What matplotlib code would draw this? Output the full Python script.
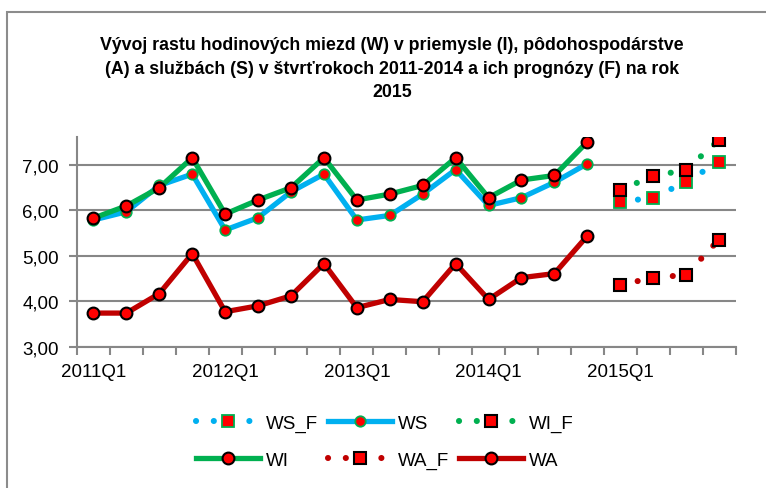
import numpy as np
import matplotlib.pyplot as plt
from matplotlib.patches import Rectangle

plt.rcParams['font.family'] = ['Liberation Sans Narrow', 'Liberation Sans', 'DejaVu Sans']

# stvrtroky 2011Q1 - 2015Q4
kvartaly = [f'{r}Q{q}' for r in range(2011, 2016) for q in range(1, 5)]

# hodinove mzdy - skutocnost 2011-2014
WS = [5.79, 5.97, 6.55, 6.80, 5.57, 5.84, 6.41, 6.80, 5.79, 5.89, 6.36, 6.90, 6.11, 6.28, 6.62, 7.03]
WI = [5.83, 6.10, 6.50, 7.16, 5.92, 6.23, 6.50, 7.16, 6.23, 6.36, 6.55, 7.16, 6.28, 6.67, 6.77, 7.51]
WA = [3.74, 3.74, 4.17, 5.05, 3.77, 3.90, 4.12, 4.83, 3.86, 4.04, 3.99, 4.83, 4.04, 4.52, 4.61, 5.44]

# prognozy na rok 2015
WS_F = [6.19, 6.28, 6.63, 7.07]
WI_F = [6.46, 6.75, 6.90, 7.55]
WA_F = [4.36, 4.52, 4.58, 5.36]

modra = '#00B0F0'
zelena = '#00B050'
bordova = '#C00000'
cervena = '#FF0000'
siva = '#878787'

x = np.arange(len(kvartaly))
x_hist = x[:16]
x_prog = x[16:]

W, H = 766, 489
fig = plt.figure(figsize=(W / 100, H / 100), dpi=100)
ax = fig.add_axes([77 / W, 1 - 347.7 / H, (735.5 - 77) / W, (347.7 - 138.3) / H])

bodky = dict(linestyle=(0, (0.01, 2.9)), dash_capstyle='round', linewidth=4.4)

ax.plot(x_prog, WS_F, color=modra, marker='s', markersize=8, markerfacecolor=cervena,
        markeredgecolor=zelena, markeredgewidth=1.3, label='WS_F', **bodky)
ax.plot(x_hist, WS, color=modra, linewidth=3.8, marker='o', markersize=7.5,
        markerfacecolor=cervena, markeredgecolor=zelena, markeredgewidth=1.3, label='WS')
ax.plot(x_prog, WI_F, color=zelena, marker='s', markersize=8.5, markerfacecolor=cervena,
        markeredgecolor='black', markeredgewidth=1.5, label='WI_F', **bodky)
ax.plot(x_hist, WI, color=zelena, linewidth=3.8, marker='o', markersize=8.5,
        markerfacecolor=cervena, markeredgecolor='black', markeredgewidth=1.5, label='WI')
ax.plot(x_prog, WA_F, color=bordova, marker='s', markersize=8.5, markerfacecolor=cervena,
        markeredgecolor='black', markeredgewidth=1.5, label='WA_F', **bodky)
ax.plot(x_hist, WA, color=bordova, linewidth=3.8, marker='o', markersize=8.5,
        markerfacecolor=cervena, markeredgecolor='black', markeredgewidth=1.5, label='WA')

ax.set_xlim(-0.5, len(kvartaly) - 0.5)
ax.set_ylim(3, 7.61)

ax.set_yticks([3, 4, 5, 6, 7])
ax.set_yticklabels([f'{v:.2f}'.replace('.', ',') for v in [3, 4, 5, 6, 7]])
ax.set_xticks(x[::4])
ax.set_xticklabels(kvartaly[::4])
ax.set_xticks(np.arange(-0.5, len(kvartaly)), minor=True)

ax.tick_params(axis='x', which='major', length=0, pad=12, labelsize=13.5)
ax.tick_params(axis='x', which='minor', length=5.5, width=1.5, color=siva, direction='out')
ax.tick_params(axis='y', length=6, width=1.5, color=siva, pad=7, labelsize=13.5)

ax.grid(axis='y', color=siva, linewidth=1.5)
ax.set_axisbelow(True)
for s in ['top', 'right']:
    ax.spines[s].set_visible(False)
for s in ['left', 'bottom']:
    ax.spines[s].set_color(siva)
    ax.spines[s].set_linewidth(1.5)

fig.text(392 / W, 1 - 69 / H,
         'Vývoj rastu hodinových miezd (W) v priemysle (I), pôdohospodárstve\n'
         '(A) a službách (S) v štvrťrokoch 2011-2014 a ich prognózy (F) na rok\n'
         '2015',
         ha='center', va='center', fontsize=12.8, fontweight='bold', linespacing=1.5)

# legenda v poradi po riadkoch
h, l = ax.get_legend_handles_labels()
poradie = [0, 3, 1, 4, 2, 5]
fig.legend([h[i] for i in poradie], [l[i] for i in poradie], ncol=3, loc='center',
           bbox_to_anchor=(385 / W, 1 - 442.5 / H), frameon=False, fontsize=13.5,
           numpoints=1, handlelength=3.4, handletextpad=0.35, columnspacing=0.5,
           labelspacing=1.05)

fig.add_artist(Rectangle((7 / W, -0.1), 1.2, 1.1 - 13 / H, transform=fig.transFigure,
                         fill=False, edgecolor='#8c8c8c', linewidth=1.5))

fig.savefig('out.png', dpi=100)
